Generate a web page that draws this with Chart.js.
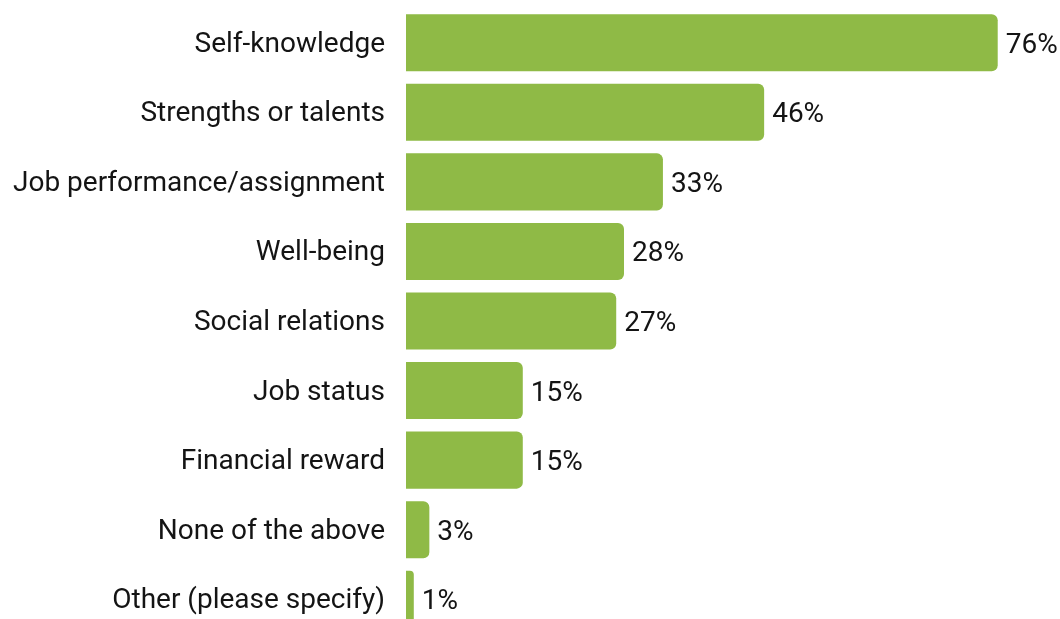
<!DOCTYPE html>
<html>
<head>
<meta charset="utf-8">
<script src="https://cdn.jsdelivr.net/npm/chart.js@4"></script>
<style>
  html, body { margin: 0; padding: 0; background: #fff; overflow: hidden; }
  #wrap { width: 1060px; height: 640px; position: relative; }
</style>
</head>
<body>
<div id="wrap"><canvas id="c"></canvas></div>
<script>
  // Survey answers, share of respondents (%)
  const categories = [
    'Self-knowledge',
    'Strengths or talents',
    'Job performance/assignment',
    'Well-being',
    'Social relations',
    'Job status',
    'Financial reward',
    'None of the above',
    'Other (please specify)'
  ];
  const shares = [76, 46, 33, 28, 27, 15, 15, 3, 1];

  const GREEN = '#8fba46';
  const INK = '#141414';
  const FONT = "Roboto, 'Noto Sans', sans-serif";

  // Writes "NN%" just past the end of each bar.
  const valueLabels = {
    id: 'valueLabels',
    afterDatasetsDraw(chart) {
      const ctx = chart.ctx;
      const meta = chart.getDatasetMeta(0);
      ctx.save();
      ctx.font = '28px ' + FONT;
      ctx.fillStyle = INK;
      ctx.textAlign = 'left';
      ctx.textBaseline = 'middle';
      meta.data.forEach((bar, i) => {
        ctx.fillText(shares[i] + '%', bar.x + 8, bar.y + 3);
      });
      ctx.restore();
    }
  };

  new Chart(document.getElementById('c'), {
    type: 'bar',
    data: {
      labels: categories,
      datasets: [{
        data: shares,
        backgroundColor: GREEN,
        borderRadius: 6,
        borderSkipped: 'start',
        barPercentage: 0.82,
        categoryPercentage: 1
      }]
    },
    options: {
      indexAxis: 'y',
      responsive: true,
      maintainAspectRatio: false,
      animation: false,
      layout: { padding: { top: 8, bottom: 6, left: 0, right: 0 } },
      plugins: { legend: { display: false }, tooltip: { enabled: false } },
      scales: {
        x: {
          min: 0, max: 84,
          display: false,
          grid: { display: false }
        },
        y: {
          grid: { display: false },
          border: { display: false },
          ticks: { color: INK, font: { family: FONT, size: 28 }, padding: 13, labelOffset: 2 },
          afterFit(axis) {
            axis.width = 406;
            axis.paddingTop = 0;
            axis.paddingBottom = 0;
          }
        }
      }
    },
    plugins: [valueLabels]
  });
</script>
</body>
</html>
